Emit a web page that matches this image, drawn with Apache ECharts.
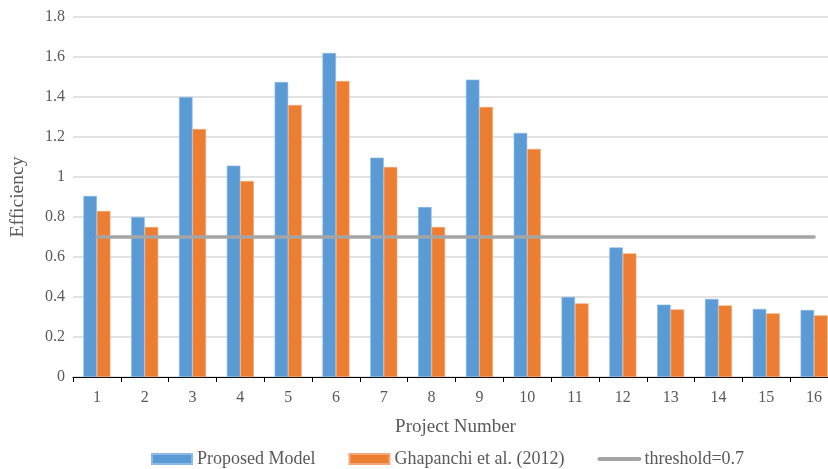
<!DOCTYPE html>
<html>
<head>
<meta charset="utf-8">
<title>Efficiency by Project</title>
<script src="https://cdn.jsdelivr.net/npm/echarts@6/dist/echarts.min.js"></script>
<style>
  html, body { margin: 0; padding: 0; background: #ffffff; }
  #chart { width: 828px; height: 469px; }
</style>
</head>
<body>
<div id="chart"></div>
<script>
// Project numbers along the x axis
const projects = ['1', '2', '3', '4', '5', '6', '7', '8', '9', '10', '11', '12', '13', '14', '15', '16'];

// Efficiency scores per project
const proposedModel = [0.905, 0.80, 1.40, 1.057, 1.475, 1.62, 1.097, 0.85, 1.487, 1.22, 0.40, 0.648, 0.362, 0.39, 0.34, 0.335];
const ghapanchi2012 = [0.83, 0.75, 1.24, 0.98, 1.36, 1.48, 1.05, 0.75, 1.35, 1.14, 0.368, 0.618, 0.338, 0.358, 0.318, 0.308];

// Efficiency threshold drawn across all projects
const threshold = [0.7, 0.7, 0.7, 0.7, 0.7, 0.7, 0.7, 0.7, 0.7, 0.7, 0.7, 0.7, 0.7, 0.7, 0.7, 0.7];

// Y axis range
const yMin = 0;
const yMax = 1.8;
const yStep = 0.2;

const FONT = '"Liberation Serif", "Times New Roman", serif';
const TEXT = '#595959';

const chart = echarts.init(document.getElementById('chart'), null, { renderer: 'canvas' });

chart.setOption({
  animation: false,
  backgroundColor: '#ffffff',
  textStyle: { fontFamily: FONT },
  grid: {
    left: 73,
    top: 17,
    width: 765,
    height: 360,
    containLabel: false,
    outerBoundsMode: 'none'
  },
  legend: {
    left: 151,
    top: 450,
    padding: 0,
    itemWidth: 40,
    itemHeight: 10,
    itemGap: 33,
    textStyle: { fontFamily: FONT, fontSize: 18, color: TEXT },
    data: [
      { name: 'Proposed Model', icon: 'rect' },
      { name: 'Ghapanchi et al. (2012)', icon: 'rect' },
      {
        name: 'threshold=0.7',
        itemStyle: { opacity: 0 },
        lineStyle: { color: '#A5A5A5', width: 4, cap: 'round' }
      }
    ]
  },
  xAxis: {
    type: 'category',
    data: projects,
    boundaryGap: true,
    name: 'Project Number',
    nameLocation: 'middle',
    nameGap: 41,
    nameTextStyle: { fontFamily: FONT, fontSize: 19, color: TEXT },
    axisLine: { lineStyle: { color: '#000000', width: 1 } },
    axisTick: { show: true, length: 5, alignWithLabel: false, lineStyle: { color: '#000000' } },
    axisLabel: { margin: 13, fontFamily: FONT, fontSize: 16, color: TEXT },
    splitLine: { show: false }
  },
  yAxis: {
    type: 'value',
    min: yMin,
    max: yMax,
    interval: yStep,
    name: 'Efficiency',
    nameLocation: 'middle',
    nameRotate: 90,
    nameGap: 45,
    nameTextStyle: { fontFamily: FONT, fontSize: 19.5, color: TEXT },
    axisLine: { show: false },
    axisTick: { show: false },
    axisLabel: { margin: 8, fontFamily: FONT, fontSize: 16, color: TEXT },
    splitLine: { show: true, lineStyle: { color: '#D9D9D9', width: 1.5 } }
  },
  series: [
    {
      name: 'Proposed Model',
      type: 'bar',
      data: proposedModel,
      barWidth: 13.5,
      barGap: '0%',
      itemStyle: { color: '#5B9BD5', borderColor: '#8DBBE6', borderWidth: 0.6 },
      z: 2
    },
    {
      name: 'Ghapanchi et al. (2012)',
      type: 'bar',
      data: ghapanchi2012,
      barWidth: 13.5,
      barGap: '0%',
      itemStyle: { color: '#ED7D31', borderColor: '#F4A77A', borderWidth: 0.6 },
      z: 2
    },
    {
      name: 'threshold=0.7',
      type: 'line',
      data: threshold,
      symbol: 'none',
      showSymbol: false,
      itemStyle: { color: '#A5A5A5' },
      lineStyle: { color: '#A5A5A5', width: 3.5, cap: 'round' },
      z: 3
    }
  ]
});
</script>
</body>
</html>
